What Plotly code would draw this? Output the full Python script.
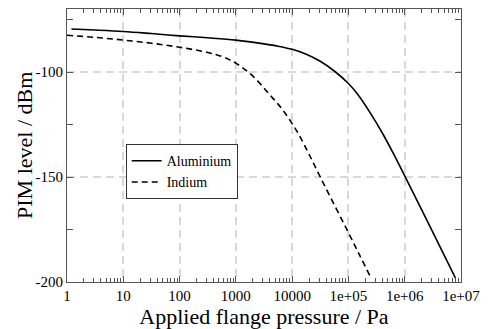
import plotly.graph_objects as go

# Applied flange pressure (Pa) and PIM level (dBm)
al_pressure = [1.2, 3.16, 10, 31.6, 100, 316, 1000, 3162, 5620, 10000, 17800, 31600,
               59000, 100000, 148000, 257000, 407000, 631000, 1000000, 2820000, 7940000]
al_pim = [-79.5, -80.0, -80.7, -81.7, -82.8, -83.7, -84.8, -86.6, -87.7, -89.2, -91.5, -94.9,
          -100.0, -105.5, -110.8, -120.4, -129.4, -138.9, -149.5, -173.6, -198.0]

in_pressure = [1, 3.16, 10, 31.6, 100, 316, 562, 750, 1000, 1410, 1900, 2800, 3980, 5620, 7240,
               10000, 13200, 20000, 31600, 56200, 100000, 158000, 251000]
in_pim = [-82.5, -83.5, -84.8, -86.3, -88.2, -90.7, -92.6, -94.0, -95.8, -98.6, -101.4, -106.0,
          -110.8, -115.3, -119.0, -124.6, -129.9, -139.2, -150.0, -163.3, -176.5, -187.2, -198.0]

x_tickvals = [1, 10, 100, 1000, 10000, 1e5, 1e6, 1e7]
x_ticktext = ["1", "10", "100", "1000", "10000", "1e+05", "1e+06", "1e+07"]
y_tickvals = [-100, -150, -200]
y_ticktext = ["-100", "-150", "-200"]

FONT = "Liberation Serif"
AX = "#555555"
GRID = "#d9d9d9"

minor_x = [k * 10 ** d for d in range(7) for k in range(2, 10)]

fig = go.Figure()
fig.add_trace(go.Scatter(x=al_pressure, y=al_pim, mode="lines", name="Aluminium",
                         line=dict(color="black", width=1.6, shape="spline", smoothing=1.0)))
fig.add_trace(go.Scatter(x=in_pressure, y=in_pim, mode="lines", name="Indium",
                         line=dict(color="black", width=1.6, dash="6px,4px", shape="spline", smoothing=1.0)))

fig.update_layout(
    width=488, height=329,
    margin=dict(l=67, r=20, t=8, b=40),
    paper_bgcolor="white", plot_bgcolor="white",
    font=dict(family=FONT, color="black", size=15),
    showlegend=True,
    legend=dict(x=0.149, y=0.505, xanchor="left", yanchor="top",
                bgcolor="white", bordercolor="#333333", borderwidth=1,
                font=dict(family=FONT, size=14, color="black"), tracegroupgap=0),
    xaxis=dict(
        type="log", range=[0, 7],
        tickmode="array", tickvals=x_tickvals, ticktext=x_ticktext,
        ticks="inside", ticklen=6, tickcolor=AX, mirror="allticks",
        showline=True, linecolor=AX, linewidth=1.2,
        showgrid=True, gridcolor=GRID, griddash="8px,5px", gridwidth=1.5,
        tickfont=dict(family=FONT, size=15, color="black"),
        title=dict(text="Applied flange pressure / Pa",
                   font=dict(family=FONT, size=22, color="black"), standoff=2),
        minor=dict(tickmode="array", tickvals=minor_x, ticks="inside", ticklen=4,
                   tickcolor=AX, showgrid=False),
        zeroline=False,
    ),
    yaxis=dict(
        range=[-200, -70],
        tickmode="array", tickvals=y_tickvals, ticktext=y_ticktext,
        ticks="inside", ticklen=6, tickcolor=AX, mirror="allticks",
        showline=True, linecolor=AX, linewidth=1.2,
        showgrid=True, gridcolor=GRID, griddash="8px,5px", gridwidth=1.5,
        tickfont=dict(family=FONT, size=15, color="black"),
        minor=dict(tickmode="array", tickvals=[-75, -125, -175], ticks="inside", ticklen=6,
                   tickcolor=AX, showgrid=False),
        zeroline=False,
    ),
    annotations=[dict(text="PIM level / dBm", xref="paper", yref="paper",
                      x=-0.108, y=0.5, xanchor="center", yanchor="middle",
                      textangle=-90, showarrow=False,
                      font=dict(family=FONT, size=22, color="black"))],
)

fig.write_html("out.html")
